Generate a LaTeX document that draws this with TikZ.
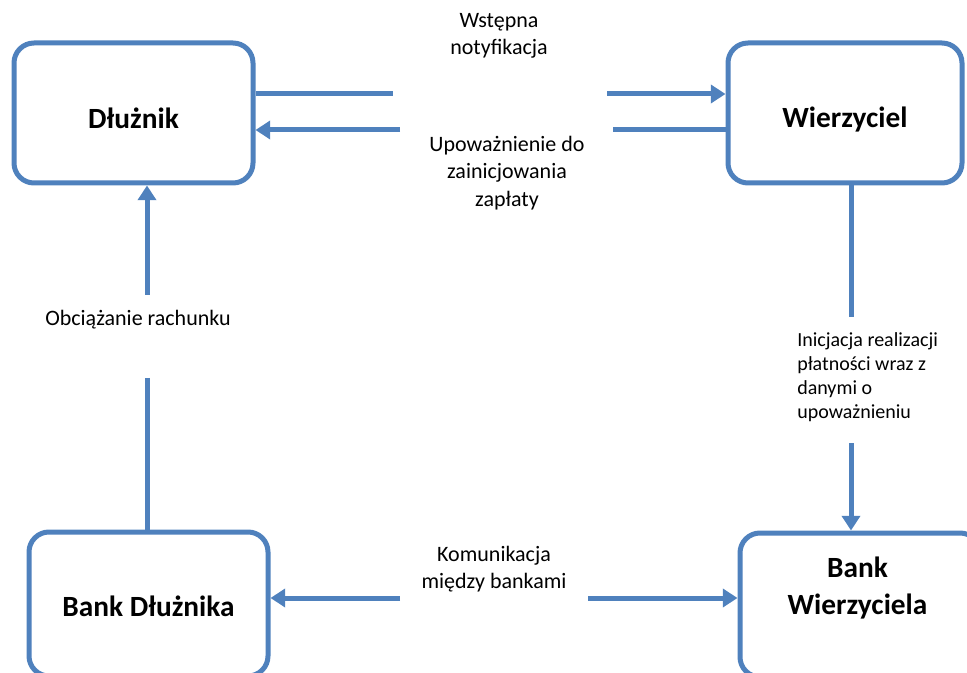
\documentclass[tikz,border=0pt]{standalone}
\usepackage{fontspec}
\setmainfont{Carlito}
\usetikzlibrary{arrows.meta}
\definecolor{lineblue}{HTML}{4F81BD}
\begin{document}
\begin{tikzpicture}[x=0.75pt,y=-0.75pt,
  box/.style={draw=lineblue, line width=3.75pt, rounded corners=15pt, fill=white, inner sep=0pt, align=center},
  boxtext/.style={font=\fontsize{22}{27.5}\selectfont\bfseries, align=center, inner sep=0pt},
  conn/.style={draw=lineblue, line width=3.75pt},
  arr/.style={conn, -{Triangle[length=11pt,width=13.5pt]}},
  lbl/.style={font=\fontsize{16.5}{20.5}\selectfont, align=center, inner sep=0pt},
  small/.style={font=\fontsize{15}{18}\selectfont, align=left, inner sep=0pt}]
\useasboundingbox (0,0) rectangle (967,673);
\begin{scope}
\clip (0,0) rectangle (967,673);
% boxes
\node[box, minimum width=179.25pt, minimum height=105pt] (d) at (133.5,113) {};
\node[boxtext] (dt) at (133.5,118) {Dłużnik};
\node[box, minimum width=175.5pt, minimum height=105pt] (w) at (845,113) {};
\node[boxtext] (wt) at (845,120) {Wierzyciel};
\node[box, minimum width=179.25pt, minimum height=108pt] (bd) at (148.5,604) {};
\node[boxtext] (bdt) at (148.5,606) {Bank Dłużnika};
\node[box, minimum width=180pt, minimum height=108pt] (bw) at (860,605) {};
\node[boxtext] (bwt) at (857.5,588) {Bank\\Wierzyciela};
% connector end points
\coordinate (n1) at (393,94);
\coordinate (n2) at (607,94);
\coordinate (u1) at (613,130);
\coordinate (u2) at (400,130);
\coordinate (o1) at (147,295);
\coordinate (o2) at (147,378);
\coordinate (i1) at (851,317);
\coordinate (i2) at (851,443);
\coordinate (k1) at (400,598);
\coordinate (k2) at (588,598);
% connectors
\draw[conn] (d.east |- n1) -- (n1);
\draw[arr] (n2) -- (w.west |- n2);
\draw[conn] (w.west |- u1) -- (u1);
\draw[arr] (u2) -- (d.east |- u2);
\draw[arr] (o1) -- (o1 |- d.south);
\draw[conn] (o2) -- (o2 |- bd.north);
\draw[conn] (i1 |- w.south) -- (i1);
\draw[arr] (i2) -- (i2 |- bw.north);
\draw[arr] (k1) -- (k1 -| bd.east);
\draw[arr] (k2) -- (k2 -| bw.west);
% labels
\node[lbl] (l1) at (499,36) {Wstępna\\notyfikacja};
\node[lbl] (l2) at (507,173) {Upoważnienie do\\zainicjowania\\zapłaty};
\node[lbl] (l3) at (138,320) {Obciążanie rachunku};
\node[small, anchor=west] (l4) at (797,377) {Inicjacja realizacji\\płatności wraz z\\danymi o\\upoważnieniu};
\node[lbl] (l5) at (494,569) {Komunikacja\\między bankami};
\end{scope}
\end{tikzpicture}
\end{document}
